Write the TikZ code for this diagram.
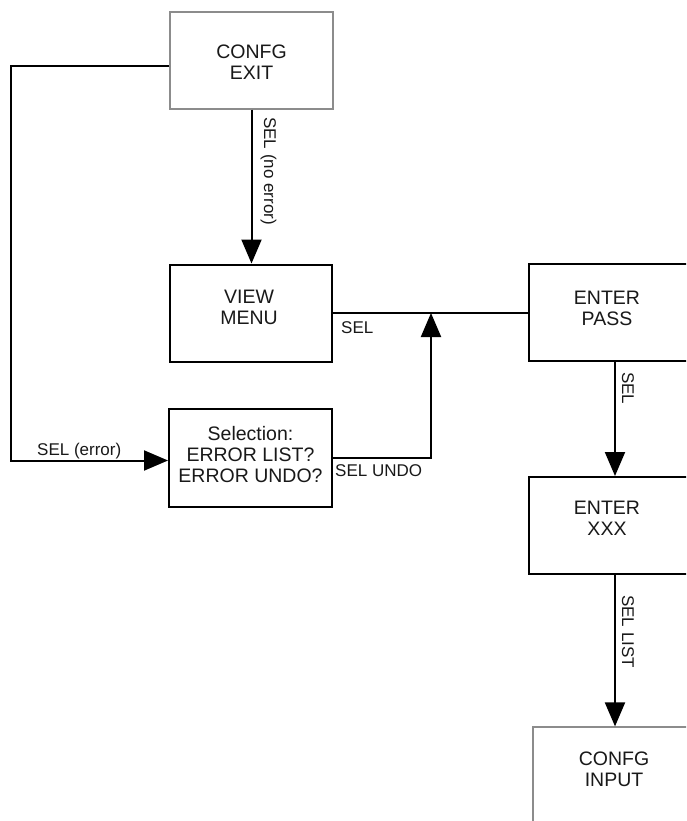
\documentclass[tikz,border=0pt]{standalone}
\usepackage{fontspec}
\setmainfont{Liberation Sans}
\usetikzlibrary{arrows.meta,calc}
\begin{document}
\begin{tikzpicture}[x=1pt,y=-1pt,
  box/.style={draw=black, line width=2pt, minimum width=162pt, minimum height=97pt, inner sep=0pt},
  graybox/.style={box, draw=black!45, line width=1.2pt},
  btxt/.style={align=center, inner sep=0pt, text=black!90, font=\fontsize{19.5}{21}\selectfont},
  conn/.style={line width=2pt},
  arr/.style={conn, -{Triangle[length=24pt,width=20pt]}},
  lbl/.style={font=\fontsize{17}{19}\selectfont, inner sep=0pt, text=black!90}]
\clip (0,0) rectangle (686,821);
\fill[white] (0,0) rectangle (686,821);
% boxes
\node[graybox, minimum width=163pt] (cexit) at (251.5,60.5) {};
\node[btxt] (cexitT) at ([yshift=-2pt]cexit.center) {CONFG\\EXIT};
\node[box] (view) at (251,313) {};
\node[btxt] (viewT) at ([xshift=-2pt,yshift=6pt]view.center) {VIEW\\MENU};
\node[box, minimum width=163pt, minimum height=98pt] (sel) at (250.5,458) {};
\node[btxt] (selT) at ([yshift=3pt]sel.center) {Selection:\\ERROR LIST?\\ERROR UNDO?};
\node[box] (pass) at (610,312.5) {};
\node[btxt] (passT) at ([xshift=-3pt,yshift=4pt]pass.center) {ENTER\\PASS};
\node[box] (xxx) at (610,525.5) {};
\node[btxt] (xxxT) at ([xshift=-3pt,yshift=7pt]xxx.center) {ENTER\\XXX};
\node[graybox] (cin) at (614,775.5) {};
\node[btxt] (cinT) at ([yshift=6pt]cin.center) {CONFG\\INPUT};
% helper coordinates
\coordinate (ax) at (615,0);
\coordinate (up) at (431,313);
% connectors
\draw[arr] ([yshift=-5.5pt]cexit.west) -- ++(-158,0) |- ([yshift=-2.5pt]sel.west);
\draw[arr] (cexit.south) -- (cexit.south |- view.north);
\draw[conn] (view.east) -- (view.east -| pass.west);
\draw[arr] (sel.east) -| (up);
\draw[arr] (pass.south -| ax) -- (xxx.north -| ax);
\draw[arr] (xxx.south -| ax) -- (cin.north -| ax);
% labels
\node[lbl, anchor=base west] (l1) at (37,455) {SEL (error)};
\node[lbl, rotate=-90, anchor=base west] (l2) at (264,117) {SEL (no error)};
\node[lbl, anchor=base west] (l3) at (341,333) {SEL};
\node[lbl, anchor=base west] (l4) at (335,476.5) {SEL UNDO};
\node[lbl, rotate=-90, anchor=base west] (l5) at (622,372) {SEL};
\node[lbl, rotate=-90, anchor=base west] (l6) at (622,595) {SEL LIST};
\end{tikzpicture}
\end{document}
